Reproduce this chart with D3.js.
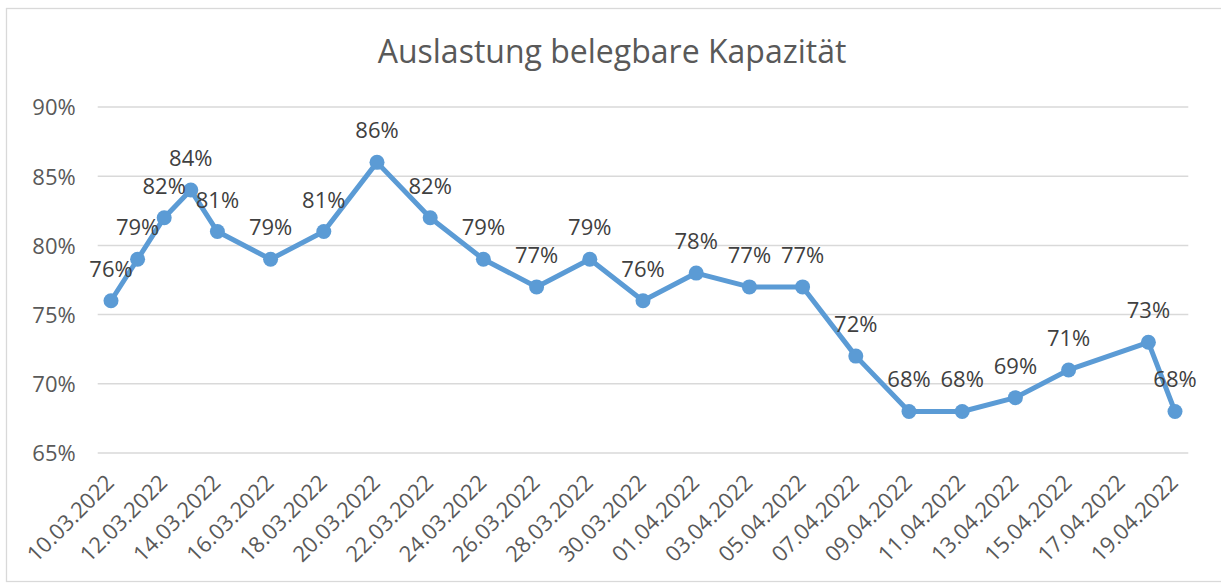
<!DOCTYPE html>
<html>
<head>
<meta charset="utf-8">
<script src="https://cdn.jsdelivr.net/npm/d3@7"></script>
<style>
  html, body { margin: 0; padding: 0; background: #fff; }
  svg { display: block; font-family: "Open Sans", "Noto Sans", sans-serif; }
</style>
</head>
<body>
<div id="chart"></div>
<script>
/* ─────────── DATA ─────────── */
const title = 'Auslastung belegbare Kapazität';

const dates = [
  '10.03.2022', '11.03.2022', '12.03.2022', '13.03.2022', '14.03.2022',
  '16.03.2022', '18.03.2022', '20.03.2022', '22.03.2022', '24.03.2022',
  '26.03.2022', '28.03.2022', '30.03.2022', '01.04.2022', '03.04.2022',
  '05.04.2022', '07.04.2022', '09.04.2022', '11.04.2022', '13.04.2022',
  '15.04.2022', '18.04.2022', '19.04.2022'
];
const values = [
  76, 79, 82, 84, 81,
  79, 81, 86, 82, 79,
  77, 79, 76, 78, 77,
  77, 72, 68, 68, 69,
  71, 73, 68
];

const xTickLabels = [
  '10.03.2022', '12.03.2022', '14.03.2022', '16.03.2022', '18.03.2022',
  '20.03.2022', '22.03.2022', '24.03.2022', '26.03.2022', '28.03.2022',
  '30.03.2022', '01.04.2022', '03.04.2022', '05.04.2022', '07.04.2022',
  '09.04.2022', '11.04.2022', '13.04.2022', '15.04.2022', '17.04.2022',
  '19.04.2022'
];
const yTicks = [65, 70, 75, 80, 85, 90];
/* ──────────────────────────── */

const W = 1221, H = 583;
const parse = d3.utcParse('%d.%m.%Y');
const points = dates.map((d, i) => ({ date: parse(d), value: values[i] }));

const svg = d3.select('#chart')
  .append('svg')
  .attr('width', W)
  .attr('height', H);

// outer frame
svg.append('rect')
  .attr('x', 6.5).attr('y', 8.5)
  .attr('width', W).attr('height', 573)
  .attr('fill', '#fff')
  .attr('stroke', '#d9d9d9')
  .attr('stroke-width', 1.3);

// x: date axis, plot area pads half a day on both ends
const xScale = d3.scaleUtc()
  .domain([parse(xTickLabels[0]), parse(xTickLabels[xTickLabels.length - 1])])
  .range([111, 1175]);
const halfDay = (xScale(d3.utcDay.offset(xScale.domain()[0], 1)) - xScale.range()[0]) / 2;
const plotLeft = xScale.range()[0] - halfDay;
const plotRight = xScale.range()[1] + halfDay;

const yScale = d3.scaleLinear().domain([65, 90]).range([453, 107]);

// title
svg.append('text')
  .attr('x', 612).attr('y', 63)
  .attr('text-anchor', 'middle')
  .attr('fill', '#595959')
  .style('font-size', '32px')
  .text(title);

// gridlines
svg.append('g')
  .attr('class', 'gridlines')
  .selectAll('line')
  .data(yTicks)
  .join('line')
    .attr('x1', plotLeft).attr('x2', plotRight)
    .attr('y1', (d) => yScale(d)).attr('y2', (d) => yScale(d))
    .attr('stroke', '#d9d9d9')
    .attr('stroke-width', 1.5);

// y axis labels
const yAxis = svg.append('g')
  .attr('class', 'y-axis')
  .attr('transform', `translate(${plotLeft - 22},0)`)
  .call(d3.axisLeft(yScale).tickValues(yTicks).tickSize(0).tickFormat((d) => d + '%'));
yAxis.select('.domain').remove();
yAxis.selectAll('text')
  .attr('fill', '#595959')
  .attr('x', 0)
  .attr('dy', '0.36em')
  .style('font-family', '"Open Sans", "Noto Sans", sans-serif')
  .style('font-size', '22px');

// x axis labels, rotated
const xAxis = svg.append('g')
  .attr('class', 'x-axis')
  .attr('transform', `translate(0,${yScale(65)})`)
  .call(d3.axisBottom(xScale).tickValues(xTickLabels.map(parse)).tickSize(0)
    .tickFormat(d3.utcFormat('%d.%m.%Y')));
xAxis.select('.domain').remove();
xAxis.selectAll('text')
  .attr('fill', '#595959')
  .attr('text-anchor', 'end')
  .attr('dy', null)
  .attr('y', 0)
  .attr('transform', 'translate(4,31) rotate(-45)')
  .style('font-family', '"Open Sans", "Noto Sans", sans-serif')
  .style('font-size', '22px');

// line
const line = d3.line()
  .x((d) => xScale(d.date))
  .y((d) => yScale(d.value));

svg.append('path')
  .datum(points)
  .attr('fill', 'none')
  .attr('stroke', '#5b9bd5')
  .attr('stroke-width', 5)
  .attr('stroke-linejoin', 'round')
  .attr('d', line);

// markers
svg.append('g')
  .selectAll('circle')
  .data(points)
  .join('circle')
    .attr('cx', (d) => xScale(d.date))
    .attr('cy', (d) => yScale(d.value))
    .attr('r', 7.5)
    .attr('fill', '#5b9bd5');

// data labels
svg.append('g')
  .selectAll('text')
  .data(points)
  .join('text')
    .attr('x', (d) => xScale(d.date))
    .attr('y', (d) => yScale(d.value) - 24)
    .attr('text-anchor', 'middle')
    .attr('fill', '#404040')
    .style('font-size', '22px')
    .text((d) => d.value + '%');
</script>
</body>
</html>
